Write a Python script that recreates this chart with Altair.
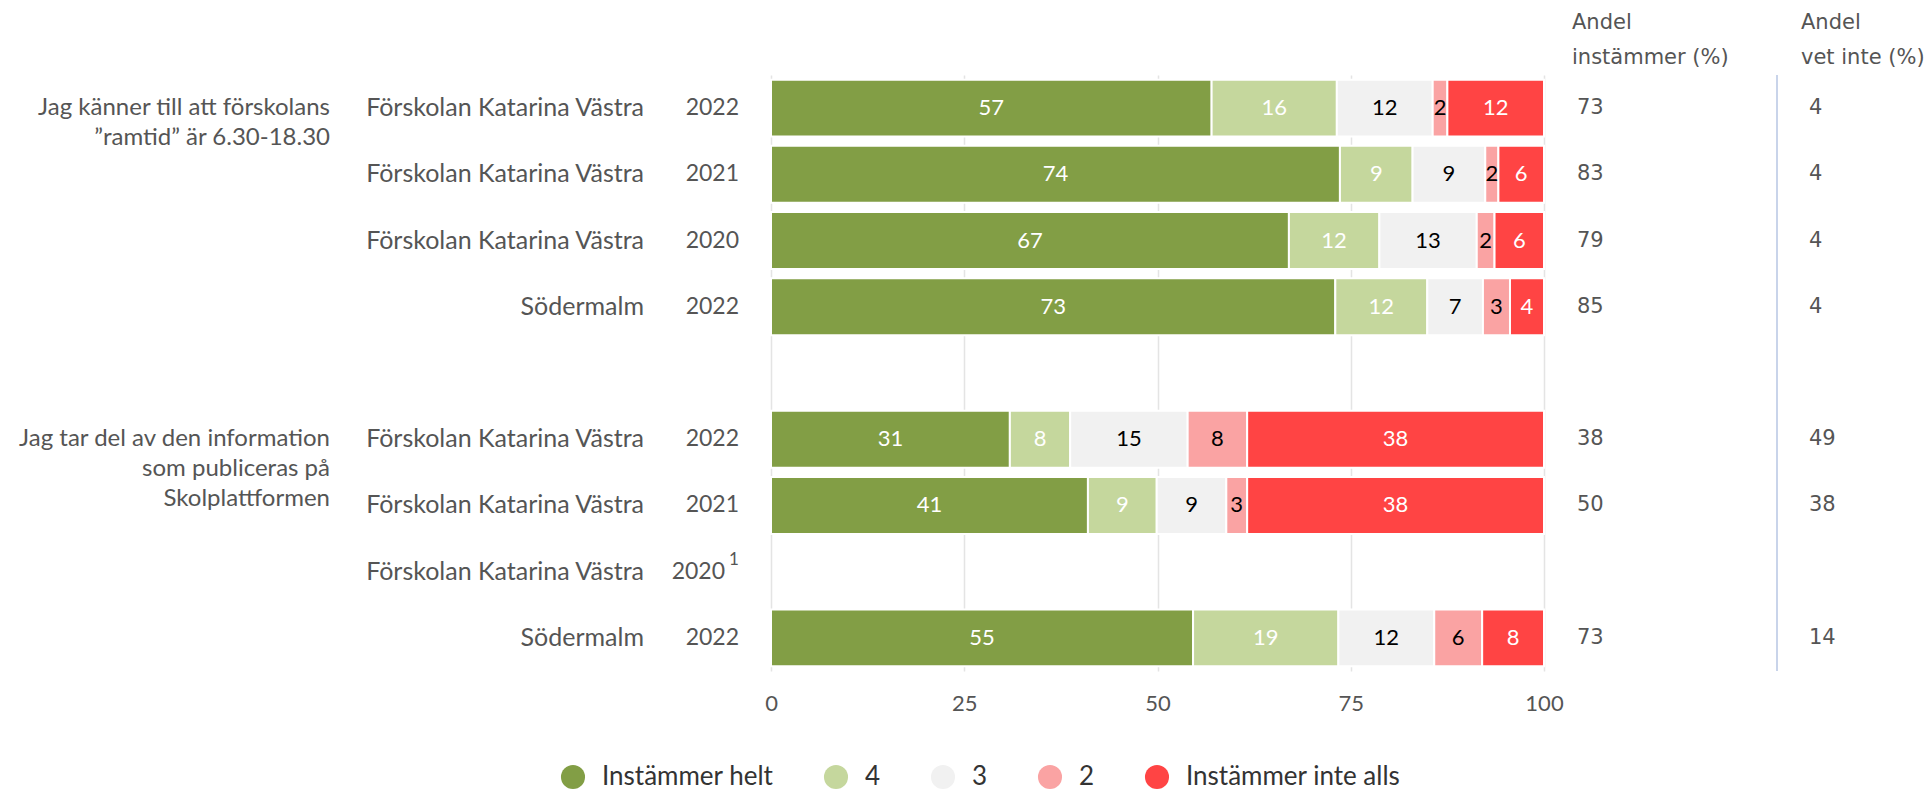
import altair as alt
import pandas as pd

# ---------------- data ----------------
categories = ["Instämmer helt", "4", "3", "2", "Instämmer inte alls"]
colors = ["#829E45", "#C5D79D", "#F1F1F1", "#FAA3A3", "#FF4444"]

row_ids = ["r1", "r2", "r3", "r4", "r5", "r6", "r7", "r8", "r9"]
units = ["Förskolan Katarina Västra", "Förskolan Katarina Västra", "Förskolan Katarina Västra",
         "Södermalm", "", "Förskolan Katarina Västra", "Förskolan Katarina Västra",
         "Förskolan Katarina Västra", "Södermalm"]
years = ["2022", "2021", "2020", "2022", "", "2022", "2021", "2020", "2022"]
notes = ["", "", "", "", "", "", "", "1", ""]

question_rows = ["r1", "r6"]
question_texts = ["Jag känner till att förskolans\n\u201dramtid\u201d är 6.30-18.30",
                  "Jag tar del av den information\nsom publiceras på\nSkolplattformen"]

# segment lengths (share of answers) and printed labels
bar_rows = ["r1", "r2", "r3", "r4", "r6", "r7", "r9"]
share_r1 = [57.0, 16.2, 12.4, 1.9, 12.5]
share_r2 = [73.6, 9.4, 9.4, 1.7, 5.9]
share_r3 = [67.0, 11.7, 12.6, 2.3, 6.4]
share_r4 = [73.0, 11.9, 7.2, 3.5, 4.4]
share_r6 = [30.9, 7.8, 15.2, 7.7, 38.4]
share_r7 = [41.0, 8.9, 9.0, 2.7, 38.4]
share_r9 = [54.6, 18.8, 12.4, 6.2, 8.0]
label_r1 = [57, 16, 12, 2, 12]
label_r2 = [74, 9, 9, 2, 6]
label_r3 = [67, 12, 13, 2, 6]
label_r4 = [73, 12, 7, 3, 4]
label_r6 = [31, 8, 15, 8, 38]
label_r7 = [41, 9, 9, 3, 38]
label_r9 = [55, 19, 12, 6, 8]

agree = [73, 83, 79, 85, None, 38, 50, None, 73]
dont_know = [4, 4, 4, 4, None, 49, 38, None, 14]

headers = ["Andel\ninstämmer (%)", "Andel\nvet inte (%)"]

# ---------------- tables ----------------
shares = [share_r1, share_r2, share_r3, share_r4, share_r6, share_r7, share_r9]
labels = [label_r1, label_r2, label_r3, label_r4, label_r6, label_r7, label_r9]
seg_records = []
for r, sh, lb in zip(bar_rows, shares, labels):
    for ci, (c, s, l) in enumerate(zip(categories, sh, lb)):
        seg_records.append({"row": r, "cat": c, "ci": ci, "share": s, "label": l})
seg_df = pd.DataFrame(seg_records)

rows_df = pd.DataFrame({"row": row_ids, "unit": units, "year": years, "note": notes,
                        "agree": agree, "dk": dont_know})
q_df = pd.DataFrame({"row": question_rows, "q": question_texts})

# ---------------- layout ----------------
W, H = 773, 596
FONT = "Lato"
FS = 22
GREY = "#555555"
BLUE = "#C9D4EA"

yscale = alt.Scale(domain=row_ids, paddingInner=0.14, paddingOuter=0.07)
Y = alt.Y("row:N", scale=yscale,
          axis=alt.Axis(labels=False, title=None, domainColor=BLUE, domainWidth=2,
                        tickColor=BLUE, tickWidth=2, tickSize=8, tickBand="extent",
                        grid=False))
Yn = alt.Y("row:N", scale=yscale, axis=None)
xscale = alt.Scale(domain=[0, 100], nice=False)

seg_base = alt.Chart(seg_df).transform_stack(
    stack="share", as_=["x0", "x1"], groupby=["row"],
    sort=[alt.SortField("ci", order="ascending")]
).transform_calculate(mid="(datum.x0 + datum.x1) / 2")

bars = seg_base.mark_bar(stroke="white", strokeWidth=2).encode(
    x=alt.X("x0:Q", scale=xscale,
            axis=alt.Axis(values=[0, 25, 50, 75, 100], title=None, domain=False,
                          ticks=False, tickSize=0, labelFlush=False,
                          labelFont=FONT, labelFontSize=FS, labelColor=GREY,
                          labelPadding=22, grid=True, gridColor="#E4E4E4",
                          gridWidth=1.5)),
    x2="x1:Q",
    y=Y,
    color=alt.Color("cat:N", scale=alt.Scale(domain=categories, range=colors),
                    legend=alt.Legend(title=None, orient="none", legendX=-211,
                                      legendY=689, direction="horizontal",
                                      symbolType="circle", symbolSize=580,
                                      symbolStrokeWidth=0, symbolOpacity=1,
                                      labelFont=FONT, labelFontSize=26,
                                      labelColor="#333333", labelOffset=16,
                                      labelLimit=400,
                                      columnPadding=49, padding=0)),
)

txt_light = seg_base.transform_filter("datum.ci == 0 || datum.ci == 1 || datum.ci == 4").mark_text(
    color="white", font=FONT, fontSize=FS, baseline="middle").encode(
    x=alt.X("mid:Q", scale=xscale), y=Yn, text="label:Q")
txt_dark = seg_base.transform_filter("datum.ci == 2 || datum.ci == 3").mark_text(
    color="black", font=FONT, fontSize=FS, baseline="middle").encode(
    x=alt.X("mid:Q", scale=xscale), y=Yn, text="label:Q")

rows_base = alt.Chart(rows_df)
unit_txt = rows_base.mark_text(align="right", baseline="middle", font=FONT, fontSize=25,
                               color=GREY).encode(x=alt.value(-127), y=Yn, text="unit:N")
year_txt = rows_base.transform_filter("datum.note == ''").mark_text(
    align="right", baseline="middle", font=FONT, fontSize=23, color=GREY).encode(
    x=alt.value(-32), y=Yn, text="year:N")
year_note_txt = rows_base.transform_filter("datum.note != ''").mark_text(
    align="right", baseline="middle", font=FONT, fontSize=23, color=GREY).encode(
    x=alt.value(-46), y=Yn, text="year:N")
note_txt = rows_base.transform_filter("datum.note != ''").mark_text(
    align="left", baseline="middle", font=FONT, fontSize=17, color=GREY, dy=-12).encode(
    x=alt.value(-42), y=Yn, text="note:N")

q_txt = alt.Chart(q_df).mark_text(align="right", baseline="middle", font=FONT, fontSize=24,
                                  color=GREY, lineBreak="\n", lineHeight=30).encode(
    x=alt.value(-441), y=Yn, text="q:N")

RFONT = "DejaVu Sans"
agree_txt = rows_base.transform_filter("datum.agree != null").mark_text(
    align="left", baseline="middle", font=RFONT, fontSize=21, color=GREY).encode(
    x=alt.value(806), y=Yn, text="agree:Q")
dk_txt = rows_base.transform_filter("datum.dk != null").mark_text(
    align="left", baseline="middle", font=RFONT, fontSize=21, color=GREY).encode(
    x=alt.value(1038), y=Yn, text="dk:Q")

h1 = alt.Chart(pd.DataFrame({"h": [headers[0]]})).mark_text(
    align="left", baseline="middle", font=RFONT, fontSize=21, color=GREY,
    lineBreak="\n", lineHeight=35).encode(x=alt.value(801), y=alt.value(-52), text="h:N")
h2 = alt.Chart(pd.DataFrame({"h": [headers[1]]})).mark_text(
    align="left", baseline="middle", font=RFONT, fontSize=21, color=GREY,
    lineBreak="\n", lineHeight=35).encode(x=alt.value(1030), y=alt.value(-52), text="h:N")

sep = alt.Chart(pd.DataFrame({"a": [0]})).mark_rule(color=BLUE, strokeWidth=2).encode(
    x=alt.value(1006), y=alt.value(0), y2=alt.value(H))

chart = alt.layer(bars, txt_light, txt_dark, unit_txt, year_txt, year_note_txt, note_txt,
                  q_txt, agree_txt, dk_txt, h1, h2, sep).properties(
    width=W, height=H,
    autosize=alt.AutoSizeParams(type="none"),
    padding={"left": 763, "top": 67, "right": 380, "bottom": 119},
).configure_view(stroke=None)

chart.save("out.html", embed_options={"renderer": "svg", "actions": False})
